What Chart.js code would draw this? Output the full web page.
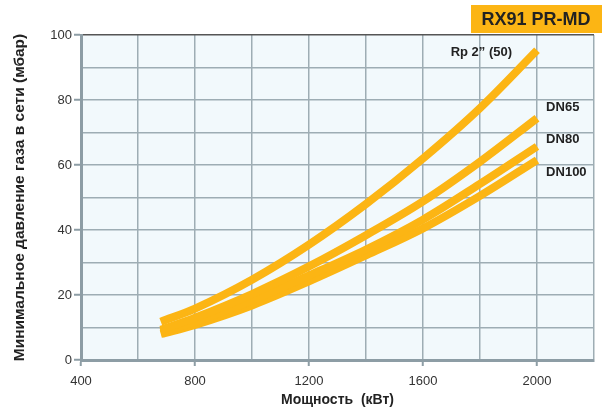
<!DOCTYPE html>
<html>
<head>
<meta charset="utf-8">
<script src="https://cdn.jsdelivr.net/npm/chart.js@4/dist/chart.umd.min.js"></script>
<style>
  html, body { margin: 0; padding: 0; background: #fff; }
  #wrap { width: 608px; height: 413px; position: relative; }
</style>
</head>
<body>
<div id="wrap"><canvas id="myChart" width="608" height="413"></canvas></div>
<script>
// power values (kW) where the curves were read
var power = [680, 800, 1000, 1200, 1400, 1600, 1800, 2000];

// minimum gas pressure (mbar) for each connection
var rp2 = [11.8, 15.8, 24.7, 35.5, 48.0, 62.0, 77.5, 95.3];
var dn65 = [9.3, 13.0, 20.3, 28.8, 38.4, 48.8, 61.0, 74.4];
var dn80 = [8.6, 11.8, 18.3, 26.0, 34.0, 43.2, 54.2, 65.7];
var dn100 = [8.0, 10.8, 16.8, 24.2, 32.2, 40.5, 50.5, 61.5];

var seriesNames = ['Rp 2\u201d (50)', 'DN65', 'DN80', 'DN100'];
var xTickLabels = [400, 800, 1200, 1600, 2000];
var yTickLabels = [0, 20, 40, 60, 80, 100];

var orange = '#fcb514';
var gridCol = '#9eadb4';

function pts(ys) {
    return power.map(function (p, i) { return { x: p, y: ys[i] }; });
}

function ds(name, ys) {
    return {
        label: name,
        data: pts(ys),
        borderColor: orange,
        borderWidth: 8,
        borderCapStyle: 'butt',
        pointRadius: 0,
        fill: false,
        tension: 0.35
    };
}

// labels at the end of the curves, in data coordinates
var endLabels = [
    { text: seriesNames[0], x: 1697, y: 94.6 },
    { text: seriesNames[1], x: 2032, y: 77.8 },
    { text: seriesNames[2], x: 2032, y: 68.0 },
    { text: seriesNames[3], x: 2032, y: 57.8 }
];

var decor = {
    id: 'decor',
    beforeDraw: function (chart) {
        var c = chart.ctx, a = chart.chartArea;
        c.save();
        c.fillStyle = '#f2f9fc';
        c.fillRect(a.left, a.top, a.right - a.left, a.bottom - a.top);
        c.restore();
    },
    afterDatasetsDraw: function (chart) {
        var c = chart.ctx;
        var xs = chart.scales.x, ys = chart.scales.y;
        c.save();
        c.fillStyle = '#222';
        c.font = 'bold 13px "Liberation Sans", Arial, sans-serif';
        c.textBaseline = 'middle';
        c.textAlign = 'left';
        endLabels.forEach(function (l) {
            c.fillText(l.text, xs.getPixelForValue(l.x), ys.getPixelForValue(l.y));
        });
        // product badge
        c.fillStyle = orange;
        c.fillRect(471, 5, 131, 28);
        c.fillStyle = '#222';
        c.font = 'bold 18px "Liberation Sans", Arial, sans-serif';
        c.textAlign = 'center';
        c.fillText('RX91 PR-MD', 536, 20);
        c.restore();
    }
};

var ctx = document.getElementById('myChart').getContext('2d');
var myChart = new Chart(ctx, {
    type: 'line',
    data: {
        datasets: [ds(seriesNames[0], rp2), ds(seriesNames[1], dn65), ds(seriesNames[2], dn80), ds(seriesNames[3], dn100)]
    },
    options: {
        responsive: false,
        animation: false,
        layout: { padding: { top: 35, right: 14, left: 6, bottom: 0 } },
        plugins: { legend: { display: false }, tooltip: { enabled: false } },
        scales: {
            x: {
                type: 'linear',
                min: 400,
                max: 2200,
                afterFit: function (s) { s.height = 53; },
                border: { color: '#8d9da5', width: 3 },
                grid: {
                    color: gridCol,
                    lineWidth: 1.5,
                    tickLength: 6,
                    tickWidth: 2,
                    tickColor: function (c) {
                        return xTickLabels.indexOf(c.tick && c.tick.value) >= 0 ? '#8d9da5' : 'rgba(0,0,0,0)';
                    }
                },
                ticks: {
                    stepSize: 200,
                    autoSkip: false,
                    maxRotation: 0,
                    padding: 8,
                    color: '#333',
                    font: { family: '"Liberation Sans", Arial, sans-serif', size: 13 },
                    callback: function (v) { return xTickLabels.indexOf(v) >= 0 ? String(v) : ''; }
                },
                title: {
                    display: true,
                    text: 'Мощность  (кВт)',
                    color: '#222',
                    font: { family: '"Liberation Sans", Arial, sans-serif', size: 14, weight: 'bold' },
                    padding: { top: 0 }
                }
            },
            y: {
                min: 0,
                max: 100,
                afterFit: function (s) { s.width = 75; },
                border: { color: '#8d9da5', width: 3 },
                grid: {
                    color: function (c) { return c.tick && c.tick.value === 100 ? '#555' : gridCol; },
                    lineWidth: 1.5,
                    tickLength: 7,
                    tickWidth: 2,
                    tickColor: function (c) {
                        return yTickLabels.indexOf(c.tick && c.tick.value) >= 0 ? '#8d9da5' : 'rgba(0,0,0,0)';
                    }
                },
                ticks: {
                    stepSize: 10,
                    autoSkip: false,
                    padding: 2,
                    color: '#333',
                    font: { family: '"Liberation Sans", Arial, sans-serif', size: 13 },
                    callback: function (v) { return yTickLabels.indexOf(v) >= 0 ? String(v) : ''; }
                },
                title: {
                    display: true,
                    text: 'Минимальное давление газа в сети (мбар)',
                    color: '#222',
                    font: { family: '"Liberation Sans", Arial, sans-serif', size: 15.5, weight: 'bold' },
                    padding: { bottom: 0 }
                }
            }
        }
    },
    plugins: [decor]
});
</script>
</body>
</html>
